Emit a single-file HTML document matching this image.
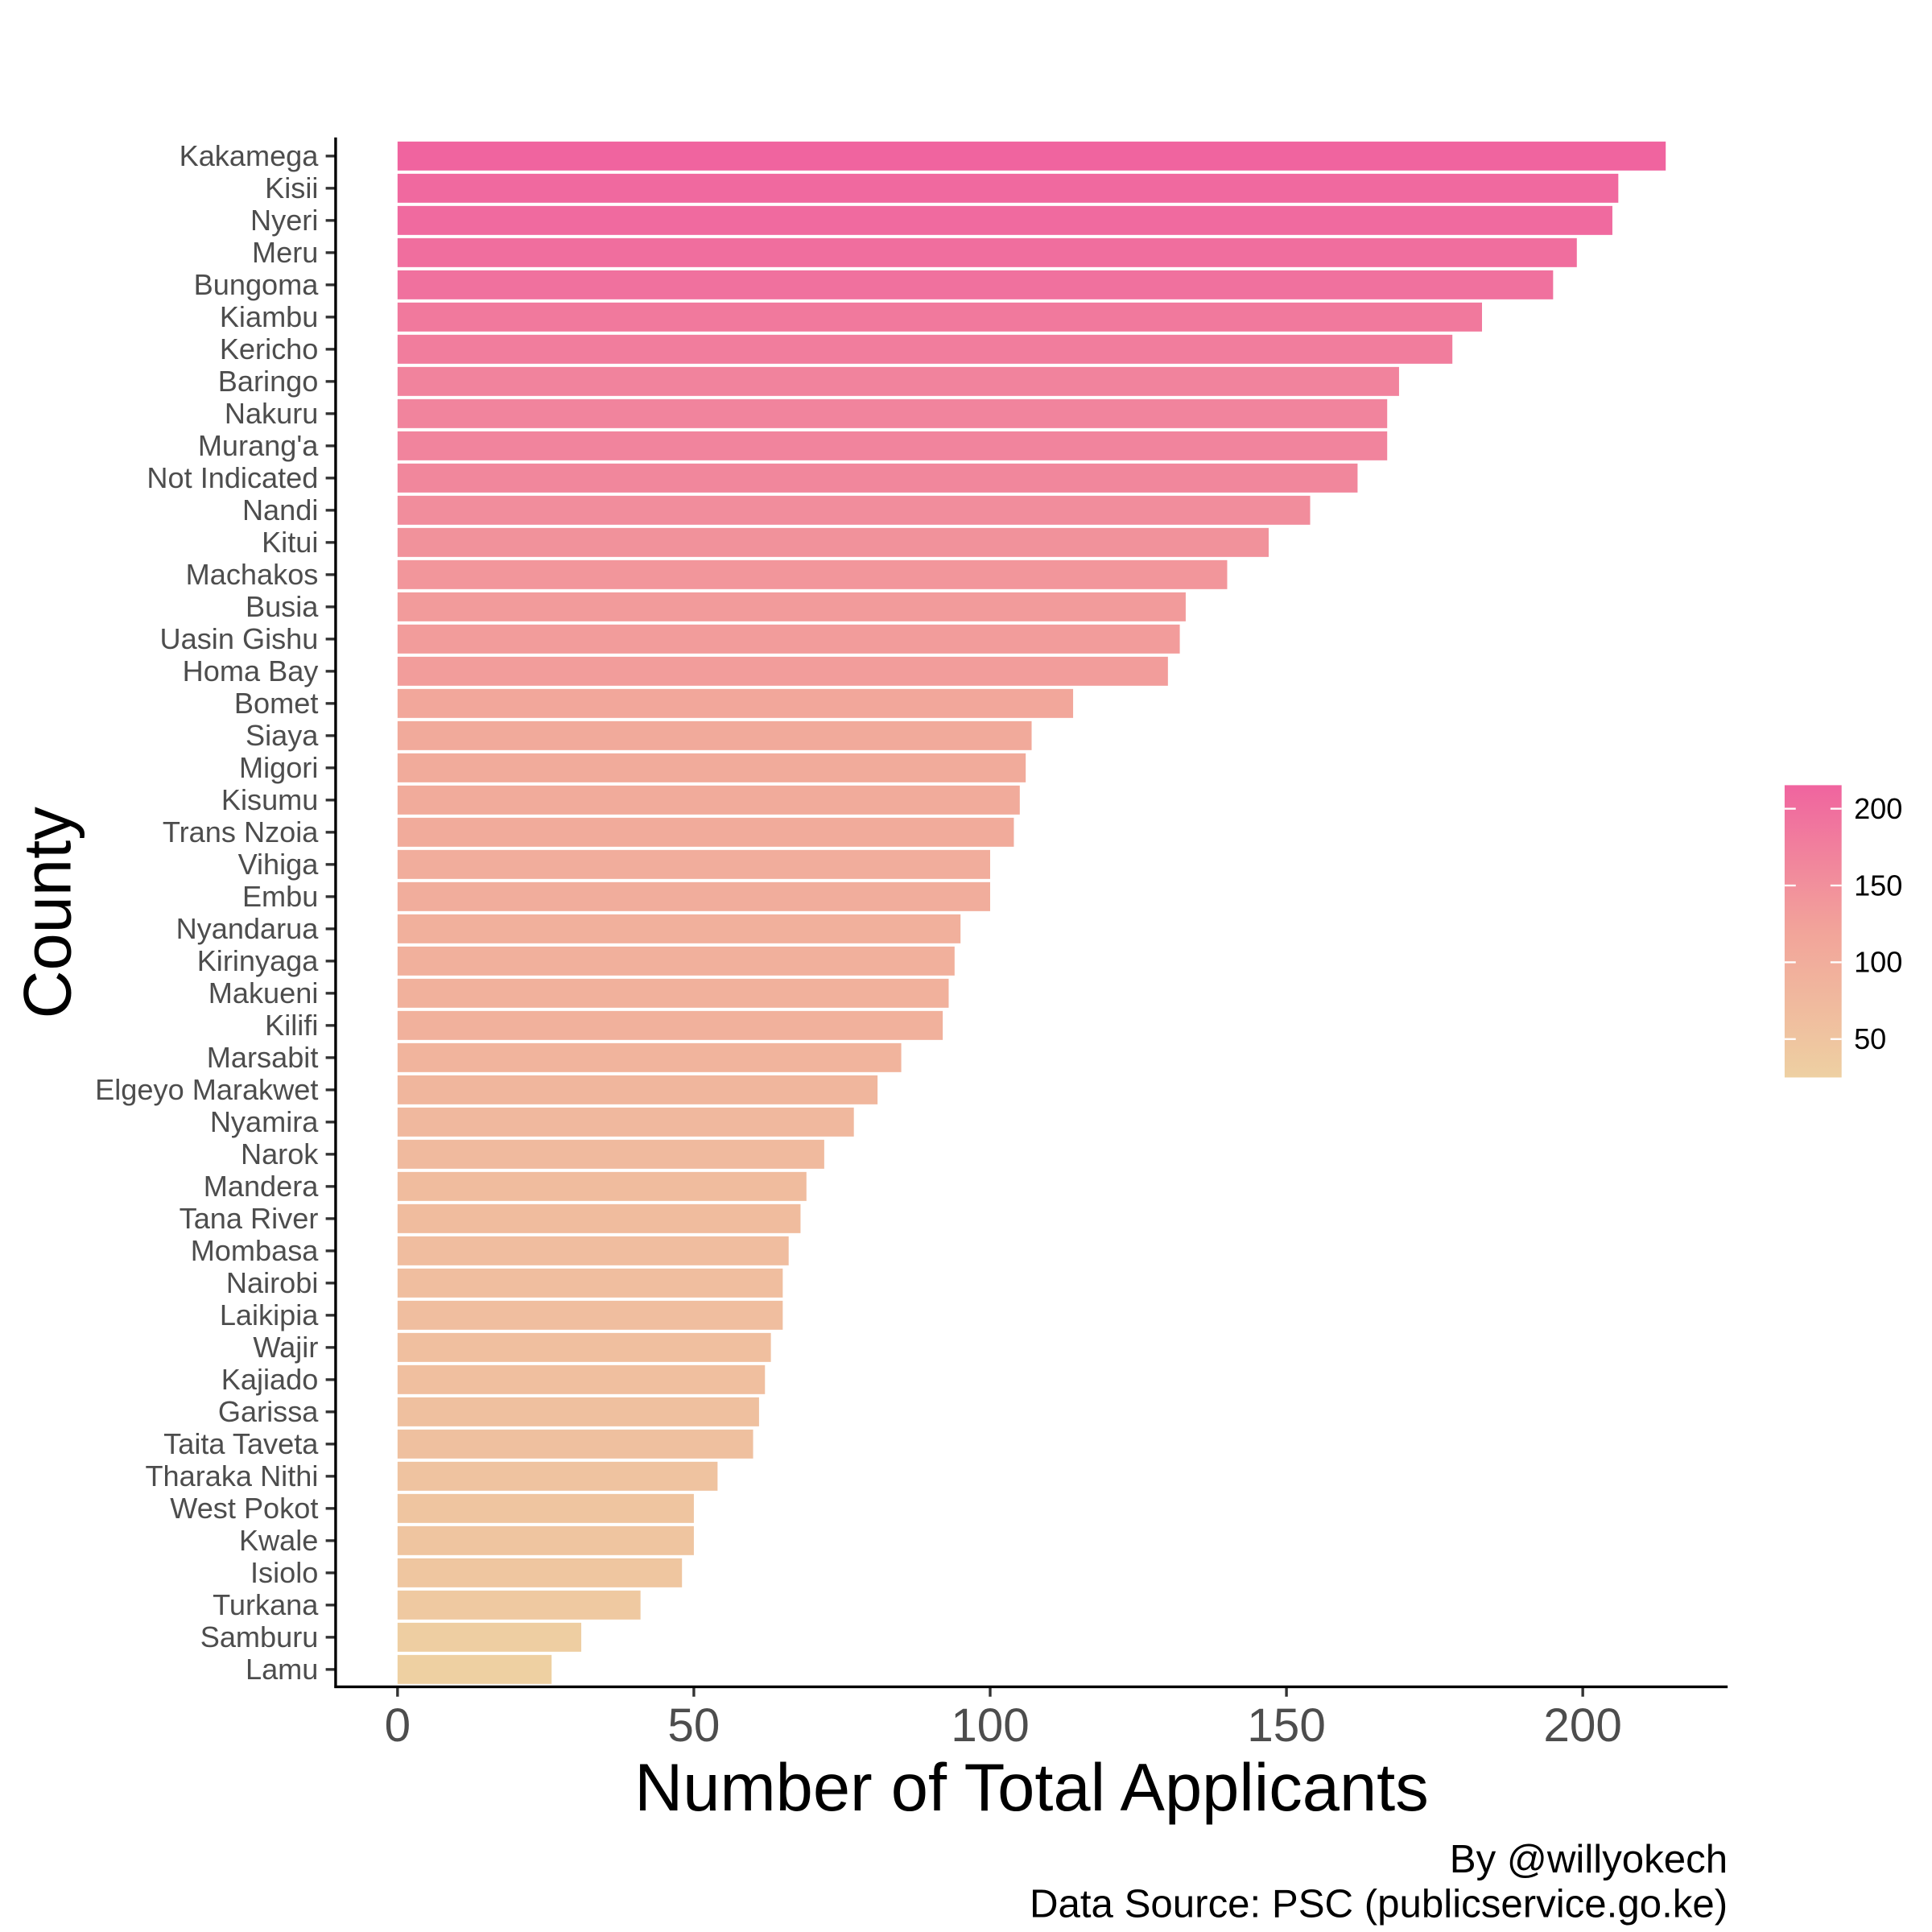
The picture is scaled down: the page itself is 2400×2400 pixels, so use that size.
<!DOCTYPE html>
<html><head><meta charset="utf-8"><style>html,body{margin:0;padding:0;background:#fff}svg{display:block}</style></head>
<body>
<svg id="chart" width="2400" height="2400" viewBox="0 0 1560 1560" xmlns="http://www.w3.org/2000/svg" font-family="Liberation Sans, Arial, sans-serif">
<defs><linearGradient id="lg" x1="0" y1="1" x2="0" y2="0"><stop offset="0" stop-color="#EED0A2"/><stop offset="0.5" stop-color="#F2A49A"/><stop offset="1" stop-color="#F0649F"/></linearGradient></defs>
<g id="bars"></g><g id="yticks"></g><g id="xticks"></g>
<line x1="271" y1="111" x2="271" y2="1363" stroke="#000" stroke-width="2.2"/>
<line x1="270" y1="1362" x2="1395" y2="1362" stroke="#000" stroke-width="2.2"/>
<text x="833" y="1462" font-size="54" text-anchor="middle" fill="#000">Number of Total Applicants</text>
<text transform="translate(57,737) rotate(-90)" font-size="54" text-anchor="middle" fill="#000">County</text>
<text x="1395" y="1512" font-size="32" text-anchor="end" fill="#000">By @willyokech</text>
<text x="1395" y="1548" font-size="32" text-anchor="end" fill="#000">Data Source: PSC (publicservice.go.ke)</text>
<g>
<rect x="1441" y="634" width="46" height="236" fill="url(#lg)"/>
<g id="legend"></g></g>
</svg>
<script>
const counties = ["Kakamega","Kisii","Nyeri","Meru","Bungoma","Kiambu","Kericho","Baringo","Nakuru","Murang'a","Not Indicated","Nandi","Kitui","Machakos","Busia","Uasin Gishu","Homa Bay","Bomet","Siaya","Migori","Kisumu","Trans Nzoia","Vihiga","Embu","Nyandarua","Kirinyaga","Makueni","Kilifi","Marsabit","Elgeyo Marakwet","Nyamira","Narok","Mandera","Tana River","Mombasa","Nairobi","Laikipia","Wajir","Kajiado","Garissa","Taita Taveta","Tharaka Nithi","West Pokot","Kwale","Isiolo","Turkana","Samburu","Lamu"];
const applicants = [214,206,205,199,195,183,178,169,167,167,162,154,147,140,133,132,130,114,107,106,105,104,100,100,95,94,93,92,85,81,77,72,69,68,66,65,65,63,62,61,60,54,50,50,48,41,31,26];
const xTicks = [0,50,100,150,200];
const legendTicks = [50,100,150,200];
const NS="http://www.w3.org/2000/svg";
const x = v => 321 + v*4.785;
const y = i => 126 + i*26.0;
const bw = 23.4;
const vmin = Math.min(...applicants), vmax = Math.max(...applicants);
const lo=[238,208,162], mid=[242,164,154], hi=[240,100,159];
function col(v){let t=(v-vmin)/(vmax-vmin);let a,b,u;if(t<0.5){a=lo;b=mid;u=t*2}else{a=mid;b=hi;u=(t-0.5)*2}
return 'rgb('+a.map((c,k)=>Math.round(c+(b[k]-c)*u)).join(',')+')';}
const bars=document.getElementById('bars'), yt=document.getElementById('yticks'), xt=document.getElementById('xticks'), lg=document.getElementById('legend');
function mk(tag,attrs,parent){const e=document.createElementNS(NS,tag);for(const k in attrs)e.setAttribute(k,attrs[k]);parent.appendChild(e);return e;}
counties.forEach((c,i)=>{
  const r=mk('rect',{x:x(0),y:y(i)-bw/2,width:x(applicants[i])-x(0),height:bw,fill:col(applicants[i])},bars);
  
  
  const tk=mk('line',{x1:263,x2:271,y1:y(i),y2:y(i),stroke:'#333','stroke-width':2.2},yt);
  
  
  const t=mk('text',{x:257,y:y(i)+8,'font-size':23.5,'text-anchor':'end',fill:'#4d4d4d'},yt);
  t.textContent=c;
  
  
});
xTicks.forEach(v=>{
  const tk=mk('line',{x1:x(v),x2:x(v),y1:1362,y2:1370,stroke:'#333','stroke-width':2.2},xt);
  
  
  const t=mk('text',{x:x(v),y:1406,'font-size':38,'text-anchor':'middle',fill:'#4d4d4d'},xt);
  t.textContent=v;
  
  
});
const ly = v => 839 - (v-50)*1.24;
legendTicks.forEach(v=>{
  mk('line',{x1:1441,x2:1450,y1:ly(v),y2:ly(v),stroke:'#fff','stroke-width':1.5},lg);
  mk('line',{x1:1478,x2:1487,y1:ly(v),y2:ly(v),stroke:'#fff','stroke-width':1.5},lg);
  const t=mk('text',{x:1497,y:ly(v)+8,'font-size':23.5,fill:'#000'},lg);
  t.textContent=v;
  
  
});
</script>
</body></html>
